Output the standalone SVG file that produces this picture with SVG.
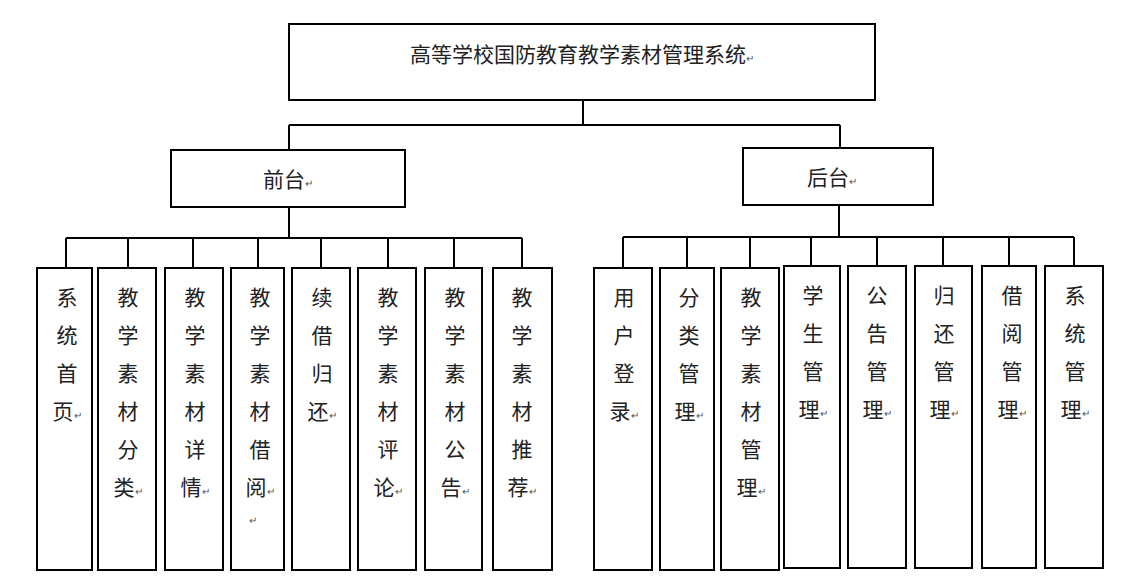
<svg xmlns="http://www.w3.org/2000/svg" width="1129" height="586" viewBox="0 0 1129 586">
<style>
rect{fill:#fff;stroke:#000;stroke-width:2}
.c{fill:none;stroke:#000;stroke-width:2}
text{font-family:"Noto Sans CJK SC","Liberation Sans",sans-serif;fill:#222;font-size:21px;text-anchor:middle}
.m{font-size:10px;fill:#555;text-anchor:start}
</style>
<rect width="1129" height="586" style="stroke:none"/>
<g id="connectors" class="c">
<path class="c" d="M583 100V125M289 125H840M289 125V150M840 125V148"/>
<path class="c" d="M289 207V238M66 238H522M66 238V268M128 238V268M193 238V268M258 238V268M321 238V268M388 238V268M454 238V268M522 238V268"/>
<path class="c" d="M839 205V237M623 237H1074M623 237V268M687 237V268M750 237V268M811 237V266M877 237V266M943 237V266M1009 237V266M1074 237V266"/>
</g>
<g id="root"><rect x="289" y="24" width="586" height="76"/><text x="582" y="62">高等学校国防教育教学素材管理系统<tspan class="m">↵</tspan></text></g>
<g id="front"><rect x="171" y="150" width="234" height="57"/><text x="288" y="187">前台<tspan class="m">↵</tspan></text></g>
<g id="back"><rect x="743" y="148" width="190" height="57"/><text x="832" y="185">后台<tspan class="m">↵</tspan></text></g>
<g id="f1"><rect x="37" y="268" width="55" height="302"/><text x="67" y="305">系</text><text x="67" y="343">统</text><text x="67" y="381">首</text><text x="67" y="419">页<tspan class="m">↵</tspan></text></g>
<g id="f2"><rect x="98" y="268" width="58" height="302"/><text x="128" y="305">教</text><text x="128" y="343">学</text><text x="128" y="381">素</text><text x="128" y="419">材</text><text x="128" y="457">分</text><text x="128" y="495">类<tspan class="m">↵</tspan></text></g>
<g id="f3"><rect x="165" y="268" width="58" height="302"/><text x="195" y="305">教</text><text x="195" y="343">学</text><text x="195" y="381">素</text><text x="195" y="419">材</text><text x="195" y="457">详</text><text x="195" y="495">情<tspan class="m">↵</tspan></text></g>
<g id="f4"><rect x="231" y="268" width="53" height="302"/><text x="260" y="305">教</text><text x="260" y="343">学</text><text x="260" y="381">素</text><text x="260" y="419">材</text><text x="260" y="457">借</text><text x="260" y="495">阅<tspan class="m">↵</tspan></text><text class="m" x="249" y="524">↵</text></g>
<g id="f5"><rect x="292" y="268" width="58" height="302"/><text x="322" y="305">续</text><text x="322" y="343">借</text><text x="322" y="381">归</text><text x="322" y="419">还<tspan class="m">↵</tspan></text></g>
<g id="f6"><rect x="358" y="268" width="58" height="302"/><text x="388" y="305">教</text><text x="388" y="343">学</text><text x="388" y="381">素</text><text x="388" y="419">材</text><text x="388" y="457">评</text><text x="388" y="495">论<tspan class="m">↵</tspan></text></g>
<g id="f7"><rect x="425" y="268" width="57" height="302"/><text x="455" y="305">教</text><text x="455" y="343">学</text><text x="455" y="381">素</text><text x="455" y="419">材</text><text x="455" y="457">公</text><text x="455" y="495">告<tspan class="m">↵</tspan></text></g>
<g id="f8"><rect x="493" y="268" width="59" height="302"/><text x="522" y="305">教</text><text x="522" y="343">学</text><text x="522" y="381">素</text><text x="522" y="419">材</text><text x="522" y="457">推</text><text x="522" y="495">荐<tspan class="m">↵</tspan></text></g>
<g id="b1"><rect x="594" y="268" width="58" height="302"/><text x="624" y="305">用</text><text x="624" y="343">户</text><text x="624" y="381">登</text><text x="624" y="419">录<tspan class="m">↵</tspan></text></g>
<g id="b2"><rect x="660" y="268" width="54" height="302"/><text x="689" y="305">分</text><text x="689" y="343">类</text><text x="689" y="381">管</text><text x="689" y="419">理<tspan class="m">↵</tspan></text></g>
<g id="b3"><rect x="721" y="268" width="58" height="302"/><text x="751" y="305">教</text><text x="751" y="343">学</text><text x="751" y="381">素</text><text x="751" y="419">材</text><text x="751" y="457">管</text><text x="751" y="495">理<tspan class="m">↵</tspan></text></g>
<g id="b4"><rect x="784" y="266" width="56" height="302"/><text x="813" y="303">学</text><text x="813" y="341">生</text><text x="813" y="379">管</text><text x="813" y="417">理<tspan class="m">↵</tspan></text></g>
<g id="b5"><rect x="848" y="266" width="58" height="302"/><text x="877" y="303">公</text><text x="877" y="341">告</text><text x="877" y="379">管</text><text x="877" y="417">理<tspan class="m">↵</tspan></text></g>
<g id="b6"><rect x="915" y="266" width="57" height="302"/><text x="944" y="303">归</text><text x="944" y="341">还</text><text x="944" y="379">管</text><text x="944" y="417">理<tspan class="m">↵</tspan></text></g>
<g id="b7"><rect x="982" y="266" width="54" height="302"/><text x="1012" y="303">借</text><text x="1012" y="341">阅</text><text x="1012" y="379">管</text><text x="1012" y="417">理<tspan class="m">↵</tspan></text></g>
<g id="b8"><rect x="1045" y="266" width="58" height="302"/><text x="1075" y="303">系</text><text x="1075" y="341">统</text><text x="1075" y="379">管</text><text x="1075" y="417">理<tspan class="m">↵</tspan></text></g>
</svg>
